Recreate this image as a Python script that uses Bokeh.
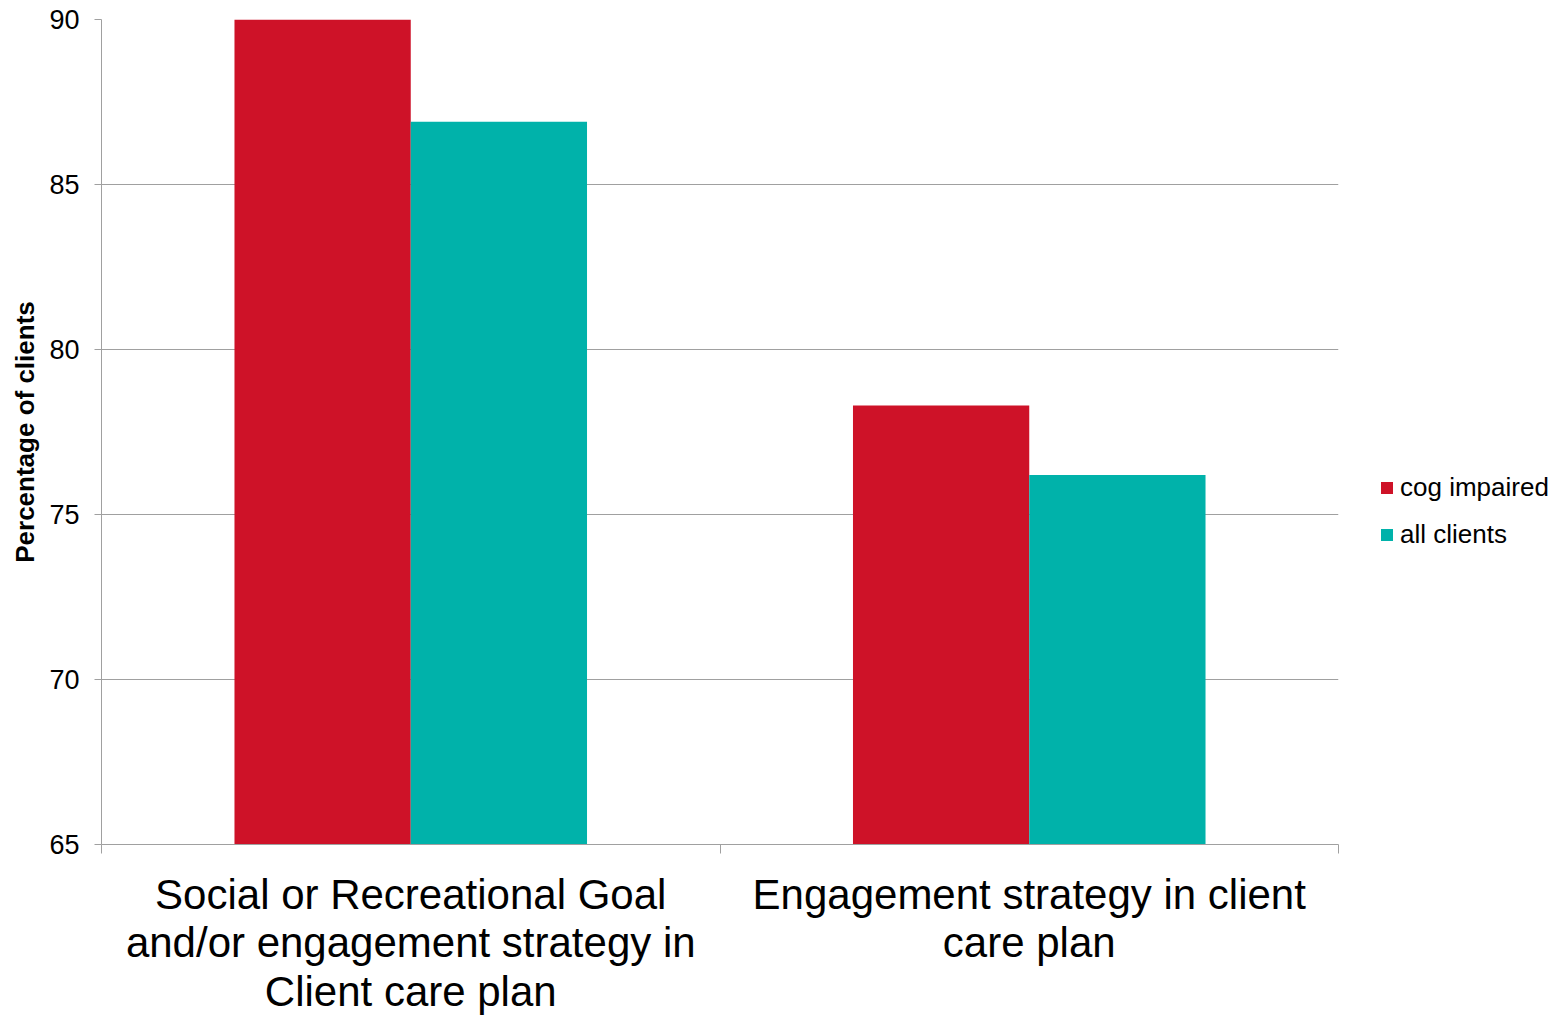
from bokeh.plotting import figure
from bokeh.models import FixedTicker, Range1d, Legend, LegendItem
from bokeh.embed import file_html
from bokeh.resources import INLINE

categories = ["Social or Recreational Goal\nand/or engagement strategy in\nClient care plan",
              "Engagement strategy in client\ncare plan"]
series_names = ["cog impaired", "all clients"]
cog_impaired = [90.0, 78.3]
all_clients = [86.9, 76.2]
y_ticks = [65, 70, 75, 80, 85, 90]

FONT = "Liberation Sans"
RED = "#CE1228"
TEAL = "#00B2AA"
GRID = "#A0A0A0"

p = figure(frame_width=1237, frame_height=825, output_backend="svg", toolbar_location=None,
           min_border_left=101, min_border_right=0, min_border_top=19, min_border_bottom=150,
           x_range=Range1d(0, len(categories)), y_range=Range1d(65, 90))
p.outline_line_color = None
p.background_fill_color = "white"

bw = 0.285
centers = [i + 0.5 for i in range(len(categories))]
r1 = p.vbar(x=[c - bw / 2 for c in centers], top=cog_impaired, bottom=65, width=bw,
            fill_color=RED, line_color=None)
r2 = p.vbar(x=[c + bw / 2 for c in centers], top=all_clients, bottom=65, width=bw,
            fill_color=TEAL, line_color=None)

# x axis
p.xaxis.ticker = FixedTicker(ticks=centers, minor_ticks=list(range(len(categories) + 1)))
p.xaxis.major_label_overrides = {c: lab for c, lab in zip(centers, categories)}
p.xaxis.major_tick_line_color = None
p.xaxis.major_tick_out = 0
p.xaxis.major_tick_in = 0
p.xaxis.minor_tick_line_color = GRID
p.xaxis.minor_tick_out = 9
p.xaxis.minor_tick_in = 0
p.xaxis.axis_line_color = GRID
p.xaxis.major_label_text_font = FONT
p.xaxis.major_label_text_font_size = "42px"
p.xaxis.major_label_text_line_height = 1.04
p.xaxis.major_label_text_color = "black"
p.xaxis.major_label_standoff = 17
p.xaxis.major_label_text_align = "center"
p.xgrid.grid_line_color = None

# y axis
p.yaxis.ticker = FixedTicker(ticks=y_ticks)
p.yaxis.minor_tick_line_color = None
p.yaxis.major_tick_line_color = GRID
p.yaxis.major_tick_out = 7
p.yaxis.major_tick_in = 0
p.yaxis.axis_line_color = GRID
p.yaxis.major_label_text_font = FONT
p.yaxis.major_label_text_font_size = "27px"
p.yaxis.major_label_text_color = "black"
p.yaxis.major_label_standoff = 15
p.yaxis.axis_label = "Percentage of clients"
p.yaxis.axis_label_text_font = FONT
p.yaxis.axis_label_text_font_size = "26px"
p.yaxis.axis_label_text_font_style = "bold"
p.yaxis.axis_label_text_color = "black"
p.yaxis.axis_label_standoff = 6
p.ygrid.grid_line_color = GRID
p.ygrid.grid_line_width = 1

# legend
lg = Legend(items=[LegendItem(label=series_names[0], renderers=[r1]),
                   LegendItem(label=series_names[1], renderers=[r2])])
lg.location = (41, 294)
lg.border_line_color = None
lg.background_fill_alpha = 0
lg.padding = 0
lg.margin = 0
lg.glyph_width = 15
lg.glyph_height = 15
lg.label_height = 30
lg.spacing = 16
lg.label_standoff = 6
lg.label_text_font = FONT
lg.label_text_font_size = "26px"
lg.label_text_color = "black"
p.add_layout(lg, "right")

open("out.html", "w").write(file_html(p, INLINE))
